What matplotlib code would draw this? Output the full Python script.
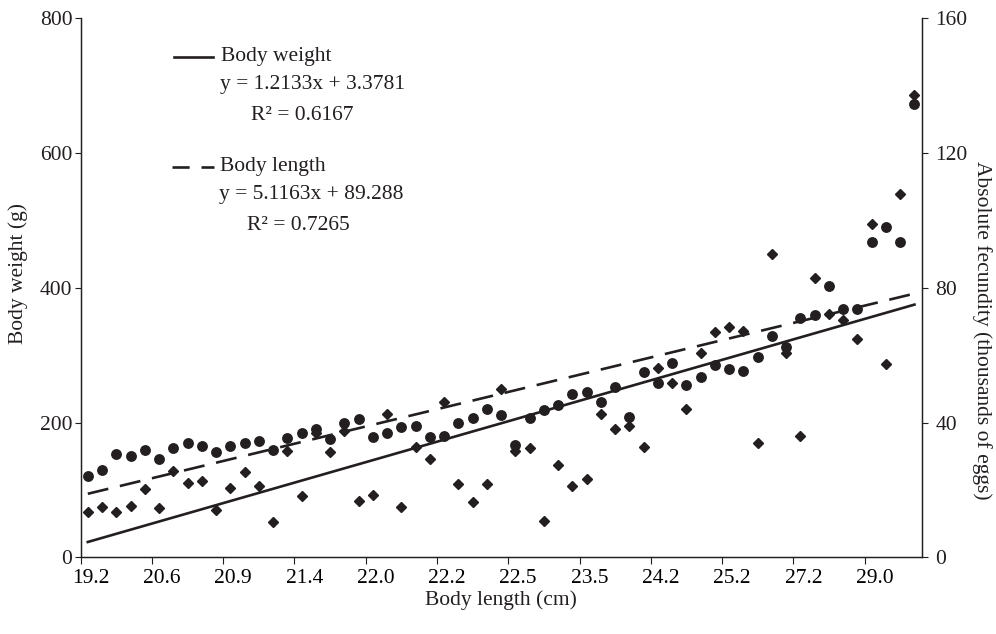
import numpy as np
import matplotlib
matplotlib.use("Agg")
import matplotlib.pyplot as plt
from matplotlib.lines import Line2D

# ---------------------------------------------------------------------------
# Datos (59 clases de longitud corporal)
# ---------------------------------------------------------------------------
peso_g = [121, 130, 153, 150, 159, 146, 162, 170, 165, 156,
          165, 169, 173, 160, 177, 184, 190, 175, 200, 205,
          179, 185, 193, 195, 178, 180, 200, 206, 220, 211,
          167, 206, 218, 226, 243, 246, 231, 253, 208, 275,
          259, 288, 256, 268, 286, 280, 276, 297, 328, 312,
          355, 359, 403, 368, 369, 468, 490, 468, 672]

fecundidad_miles = [13.6, 15.0, 13.6, 15.4, 20.4, 14.6, 25.6, 22.2, 22.8, 14.0,
                    20.7, 25.3, 21.2, 10.5, 31.7, 18.3, 37.0, 31.3, 37.6, 16.7,
                    18.6, 42.6, 14.9, 32.7, 29.2, 46.1, 21.8, 16.5, 21.8, 49.9,
                    31.7, 32.5, 10.8, 27.3, 21.1, 23.2, 42.4, 38.1, 38.9, 32.8,
                    56.1, 51.8, 43.9, 60.7, 66.9, 68.4, 67.1, 33.9, 90.1, 60.5,
                    36.0, 82.9, 72.1, 70.5, 64.7, 98.9, 57.4, 107.8, 137.1]

etiquetas_x = ["19.2", "20.6", "20.9", "21.4", "22.0", "22.2",
               "22.5", "23.5", "24.2", "25.2", "27.2", "29.0"]

# Ecuaciones de tendencia mostradas en el gráfico
tend_peso = (1.2133, 3.3781)      # eje derecho
tend_long = (5.1163, 89.288)      # eje izquierdo

negro = "#231f20"
plt.rcParams["font.family"] = ["Liberation Serif", "DejaVu Serif"]
fs = 15.5

n = len(peso_g)
x = np.arange(1, n + 1)

fig = plt.figure(figsize=(9.96, 6.34), dpi=100)
ax = fig.add_axes([0.081, 0.1207, 0.8443, 0.8513])
ax2 = ax.twinx()

ax.plot(x, peso_g, "o", ms=6.8, color=negro, zorder=3)
ax2.plot(x, fecundidad_miles, "D", ms=5.6, color=negro, zorder=3)

xt = np.array([1, n])
ax2.plot(xt, tend_peso[0] * xt + tend_peso[1], "-", lw=1.9, color=negro)
ax.plot(xt, tend_long[0] * xt + tend_long[1], lw=1.9, color=negro,
        dashes=(8, 4.5))

ax.set_xlim(0.5, n + 0.5)
ax.set_ylim(0, 800)
ax2.set_ylim(0, 160)
ax.set_yticks([0, 200, 400, 600, 800])
ax2.set_yticks([0, 40, 80, 120, 160])

# marcas entre categorías cada 5, etiquetas en el centro de la categoría
ax.set_xticks(np.arange(0.5, n, 5))
ax.set_xticklabels([])
ax.set_xticks(np.arange(1, n + 1, 5)[:len(etiquetas_x)] + 0.2, minor=True)
ax.set_xticklabels(etiquetas_x, minor=True)
ax.tick_params(axis="x", which="minor", length=0, pad=8, labelsize=fs)
ax.tick_params(axis="x", which="major", length=5, width=0.8, color=negro)
ax.tick_params(axis="y", length=4, width=0.8, color=negro, pad=2,
               labelsize=fs, labelcolor=negro)
ax2.tick_params(axis="y", length=4, width=0.8, color=negro, pad=6,
                labelsize=fs, labelcolor=negro)
ax.tick_params(axis="x", labelcolor=negro)

for a in (ax, ax2):
    a.spines["top"].set_visible(False)
    for s in ("left", "right", "bottom"):
        a.spines[s].set_color(negro)
        a.spines[s].set_linewidth(0.9)

ax.set_xlabel("Body length (cm)", fontsize=fs, color=negro, labelpad=2)

W, H = 996, 634
def fx(px):
    return px / W
def fy(py):
    return 1 - py / H

fig.text(fx(18), fy(273), "Body weight (g)", fontsize=fs, color=negro,
         rotation=90, ha="center", va="center")
fig.text(fx(982), fy(330), "Absolute fecundity (thousands of eggs)",
         fontsize=fs, color=negro, rotation=270, ha="center", va="center")

# leyenda manual
fig.add_artist(Line2D([fx(174), fx(213)], [fy(57), fy(57)], lw=1.9,
                      color=negro))
fig.add_artist(Line2D([fx(172), fx(214)], [fy(167), fy(167)], lw=1.9,
                      color=negro, dashes=(6.5, 4.5)))
textos = [(221, 57, "Body weight"),
          (220, 84, "y = 1.2133x + 3.3781"),
          (251, 116, "R² = 0.6167"),
          (220, 167, "Body length"),
          (219, 194, "y = 5.1163x + 89.288"),
          (247, 226, "R² = 0.7265")]
for px, py, t in textos:
    fig.text(fx(px), fy(py), t, fontsize=fs, color=negro, va="center",
             ha="left")

fig.savefig("out.png", dpi=100)
